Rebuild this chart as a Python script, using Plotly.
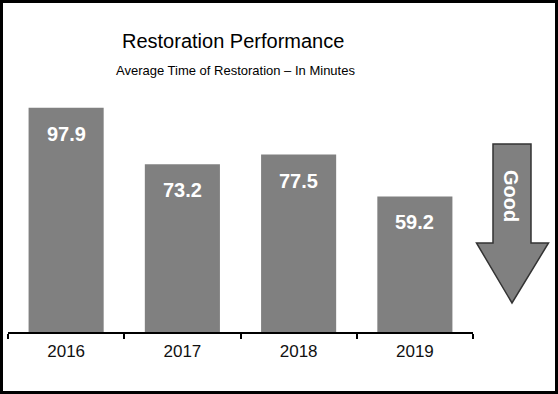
import plotly.graph_objects as go

years = ["2016", "2017", "2018", "2019"]
minutes = [97.9, 73.2, 77.5, 59.2]
value_labels = [f"{v:.1f}" for v in minutes]
title_text = "Restoration Performance"
subtitle_text = "Average Time of Restoration \u2013 In Minutes"
arrow_text = "Good"

W, H = 558, 394
ML, MR, MT, MB = 8, 85, 103, 62
PW = W - ML - MR
PH = H - MT - MB

def px(x):
    return (x - ML) / PW

def py(y):
    return (H - MB - y) / PH

FONT = "Arial, Liberation Sans, sans-serif"
GRAY = "#808080"

fig = go.Figure()
fig.add_trace(go.Bar(
    x=years, y=minutes,
    marker=dict(color=GRAY, line=dict(width=0)),
    hoverinfo="skip",
))

annotations = []
for i, (v, lab) in enumerate(zip(minutes, value_labels)):
    annotations.append(dict(
        x=i, y=v, xref="x", yref="y", text=lab, showarrow=False,
        yshift=-26, yanchor="middle",
        font=dict(family=FONT, size=20, color="white", weight="bold"),
    ))

annotations.append(dict(
    x=px(233), y=py(41), xref="paper", yref="paper", text=title_text,
    showarrow=False, xanchor="center", yanchor="middle",
    font=dict(family=FONT, size=20, color="black"),
))
annotations.append(dict(
    x=px(235), y=py(70), xref="paper", yref="paper", text=subtitle_text,
    showarrow=False, xanchor="center", yanchor="middle",
    font=dict(family=FONT, size=13, color="black"),
))
annotations.append(dict(
    x=px(511), y=py(196), xref="paper", yref="paper", text=arrow_text,
    showarrow=False, xanchor="center", yanchor="middle", textangle=90,
    font=dict(family=FONT, size=20, color="white", weight="bold"),
))

arrow_pts = [(493, 144), (531, 144), (531, 243), (548.5, 243),
             (512, 303), (476.5, 243), (493, 243)]
path = "M " + " L ".join(f"{px(a):.5f},{py(b):.5f}" for a, b in arrow_pts) + " Z"

shapes = [
    dict(type="path", xref="paper", yref="paper", path=path,
         fillcolor=GRAY, line=dict(color="#333333", width=1.5), layer="below"),
    dict(type="rect", xref="paper", yref="paper",
         x0=px(1.5), x1=px(W - 1.5), y0=py(H - 1.5), y1=py(1.5),
         line=dict(color="black", width=3), fillcolor="rgba(0,0,0,0)"),
]

fig.update_layout(
    width=W, height=H,
    margin=dict(l=ML, r=MR, t=MT, b=MB, pad=0),
    paper_bgcolor="white", plot_bgcolor="white",
    bargap=0.354,
    showlegend=False,
    annotations=annotations,
    shapes=shapes,
    xaxis=dict(
        type="category", range=[-0.5, 3.5],
        showline=True, linecolor="black", linewidth=2,
        ticks="outside", tickson="boundaries", ticklen=5, tickwidth=2, tickcolor="black",
        ticklabelstandoff=3,
        showgrid=False, zeroline=False,
        tickfont=dict(family=FONT, size=17, color="#111111"),
        fixedrange=True,
    ),
    yaxis=dict(
        range=[0, 100], visible=False, showgrid=False, zeroline=False, fixedrange=True,
    ),
)

fig.write_html(
    "out.html",
    config={"displayModeBar": False},
    post_script="document.body.style.margin='0';document.body.style.overflow='hidden';",
)
